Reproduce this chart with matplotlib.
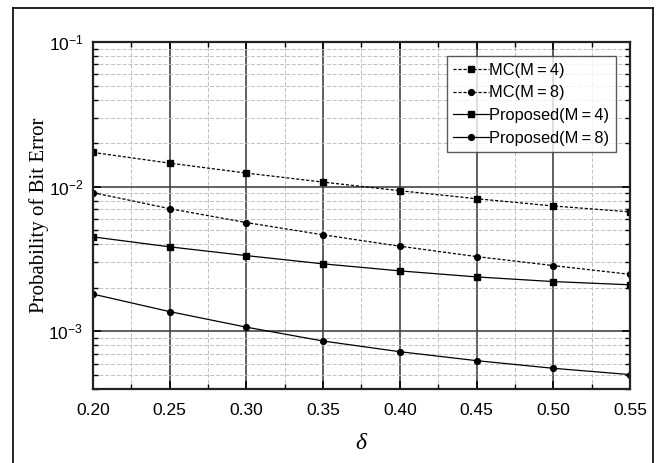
import matplotlib
matplotlib.use("Agg")
import matplotlib.pyplot as plt
from matplotlib.lines import Line2D
from matplotlib.ticker import LogLocator, FixedLocator, MultipleLocator, NullFormatter

plt.rcParams['font.family'] = ['Liberation Sans', 'DejaVu Sans']
plt.rcParams['mathtext.fontset'] = 'custom'
plt.rcParams['mathtext.rm'] = 'Liberation Sans'
plt.rcParams['mathtext.it'] = 'Liberation Serif:italic'

delta = [0.20, 0.25, 0.30, 0.35, 0.40, 0.45, 0.50, 0.55]
mc_m4 = [0.01725, 0.01455, 0.01242, 0.01076, 0.00938, 0.00826, 0.00736, 0.00670]
mc_m8 = [0.00910, 0.00705, 0.00565, 0.00465, 0.00388, 0.00329, 0.00285, 0.00248]
prop_m4 = [0.00450, 0.00384, 0.00334, 0.00293, 0.00262, 0.00238, 0.00221, 0.00210]
prop_m8 = [0.00181, 0.00137, 0.00107, 0.000858, 0.000724, 0.000628, 0.000556, 0.000503]
labels = ['MC(M\u2009=\u20094)', 'MC(M\u2009=\u20098)', 'Proposed(M\u2009=\u20094)', 'Proposed(M\u2009=\u20098)']

fig = plt.figure(figsize=(6.56, 4.63), dpi=100)
ax = fig.add_axes([93/656, 1-389/463, (630-93)/656, (389-42)/463])

ax.plot(delta, mc_m4, color='black', ls=(0, (2.5, 1.5)), lw=0.9, marker='s', ms=4.2, label=labels[0])
ax.plot(delta, mc_m8, color='black', ls=(0, (2.5, 1.5)), lw=0.9, marker='o', ms=4.2, label=labels[1])
ax.plot(delta, prop_m4, color='black', ls='-', lw=0.9, marker='s', ms=4.2, label=labels[2])
ax.plot(delta, prop_m8, color='black', ls='-', lw=0.9, marker='o', ms=4.2, label=labels[3])

ax.set_yscale('log')
ax.set_ylim(4e-4, 1e-1)
ax.set_xlim(0.2, 0.55)
ax.xaxis.set_major_locator(FixedLocator(delta))
ax.set_xticklabels([f'{d:.2f}' for d in delta])
ax.xaxis.set_minor_locator(MultipleLocator(0.025))
ax.yaxis.set_major_locator(LogLocator(base=10, numticks=10))
ax.yaxis.set_minor_locator(LogLocator(base=10, subs=[2, 3, 4, 5, 6, 7, 8, 9], numticks=20))
ax.yaxis.set_minor_formatter(NullFormatter())

ax.grid(True, which='major', color='#444444', lw=1.2, ls='-')
ax.grid(True, which='minor', color='#c0c0c0', lw=0.7, ls=(0, (4, 2)))
ax.set_axisbelow(True)

ax.tick_params(which='both', direction='in', top=True, right=True, labelsize=12.5, colors='black')
ax.tick_params(which='major', length=6, width=1.2, pad=10)
ax.tick_params(axis='y', which='major', pad=7)
ax.tick_params(which='minor', length=3.5, width=1.0)
for s in ax.spines.values():
    s.set_linewidth(1.6)
    s.set_color('#222222')

ax.set_ylabel('Probability of Bit Error', family='Liberation Serif', fontsize=15)
ax.yaxis.set_label_coords((49-93)/537, 0.5)
ax.set_xlabel(r'$\delta$', fontsize=17, labelpad=10)

leg = ax.legend(loc='upper right', bbox_to_anchor=(616/656, 1-56/463), bbox_transform=fig.transFigure,
                fontsize=11.8, frameon=True, fancybox=False, edgecolor='#333333',
                handlelength=2.2, handletextpad=0.0, borderpad=0.4, labelspacing=0.47,
                borderaxespad=0)
leg.get_frame().set_linewidth(1.0)

# outer frame
fx0, fy0, fx1 = 13/656, 1-8/463, 653/656
for xs, ys in [([fx0, fx0], [fy0, -0.1]), ([fx0, fx1], [fy0, fy0]), ([fx1, fx1], [fy0, -0.1])]:
    fig.add_artist(Line2D(xs, ys, transform=fig.transFigure, color='black', lw=1.2))

fig.savefig('out.png', dpi=100)
